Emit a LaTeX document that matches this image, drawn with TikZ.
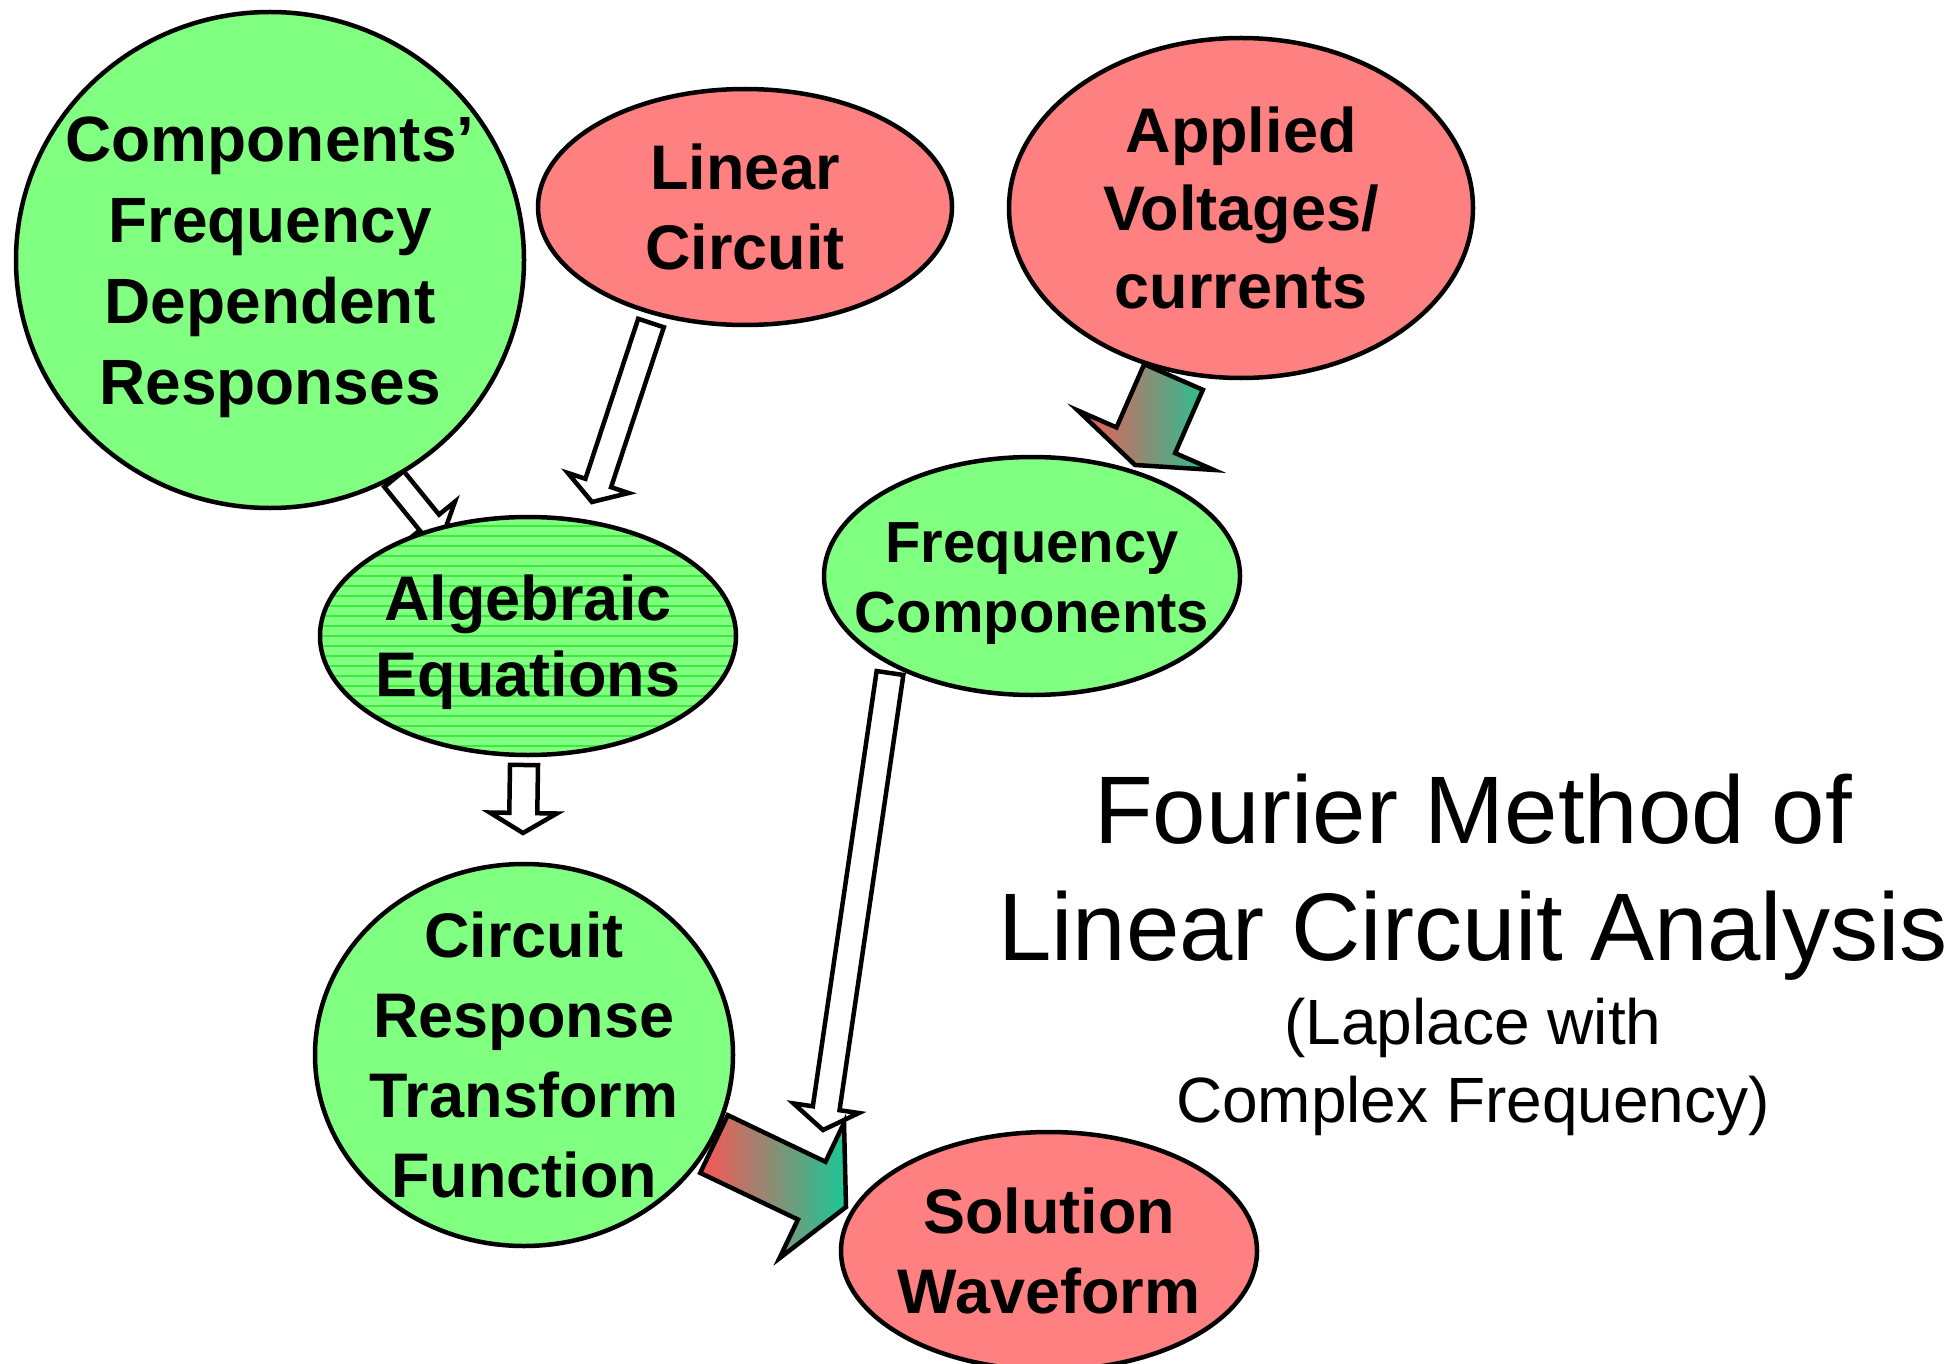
\documentclass[tikz,border=0pt]{standalone}
\usepackage{fontspec}
\setmainfont{Liberation Sans}
\usetikzlibrary{shapes.geometric,calc}
\pgfdeclarelayer{back}
\pgfsetlayers{back,main}

\definecolor{givenred}{RGB}{255,128,128}
\definecolor{foundgreen}{RGB}{128,255,128}
\definecolor{stripegreen}{RGB}{60,235,60}
\definecolor{flowred}{RGB}{250,85,85}
\definecolor{flowteal}{RGB}{25,200,150}

\tikzset{
  bubble/.style={ellipse, draw=black, line width=4.5pt, inner sep=-300pt, align=center},
  given/.style={bubble, fill=givenred},
  found/.style={bubble, fill=foundgreen},
  txt/.style n args={3}{font=\fontsize{#1}{#2}\selectfont\bfseries, text height=#3pt, text depth=0pt},
  stripes/.style={path picture={\foreach \k in {-13,...,13}
      \draw[stripegreen, line width=1.5pt] ($(path picture bounding box.center)+(-240,\k*10)$) -- ++(480,0);}},
  hollow/.style={draw=black, line width=4.5pt, fill=white},
  flow/.style={draw=black, line width=4.5pt, left color=flowred, right color=flowteal}
}

% style, from, to, half shaft, half head, head length
\newcommand{\blockarrow}[6]{%
  \coordinate (ba) at ($(#3)!#6!(#2)$);
  \draw[#1] ($(#2)!#4!90:(#3)$) -- ($(ba)!#4!-90:(#2)$) -- ($(ba)!#5!-90:(#2)$) -- (#3)
    -- ($(ba)!#5!90:(#2)$) -- ($(ba)!#4!90:(#2)$) -- ($(#2)!#4!-90:(#3)$) -- cycle;
}

\begin{document}
\begin{tikzpicture}[x=1pt, y=-1pt]
\useasboundingbox (0,0) rectangle (1956,1364);

\node[found, minimum width=508, minimum height=496, txt={64}{81}{289}] (comp) at (270,260)
  {Components'\\Frequency\\Dependent\\Responses};
\node[given, minimum width=414, minimum height=236, txt={63}{80}{125}] (lin) at (745,207)
  {Linear\\Circuit};
\node[given, minimum width=464, minimum height=340, txt={63}{78}{201}] (app) at (1241,208)
  {Applied\\Voltages/\\currents};
\node[found, stripes, minimum width=416, minimum height=238, txt={63}{76}{121}] (alg) at (528,636)
  {Algebraic\\Equations};
\node[found, minimum width=416, minimum height=238, txt={58}{70}{112}] (freq) at (1032,576)
  {Frequency\\Components};
\node[found, minimum width=418, minimum height=382, txt={63}{80}{285}] (crf) at (524,1055)
  {Circuit\\Response\\Transform\\Function};
\node[given, minimum width=416, minimum height=238, txt={63}{80}{125}] (sol) at (1049,1251)
  {Solution\\Waveform};

\node[font=\fontsize{96}{117}\selectfont, align=center, text height=186pt, text depth=0pt] (title) at (1473,867)
  {Fourier Method of\\Linear Circuit Analysis};
\node[font=\fontsize{64}{78}\selectfont, align=center, text height=124pt, text depth=0pt] (subtitle) at (1473,1060)
  {(Laplace with\\Complex Frequency)};

\coordinate (lin-out) at ($(lin)+(-94,116)$);
\coordinate (alg-in1) at ($(alg)+(64,-134)$);
\coordinate (comp-out) at ($(comp)+(124,219)$);
\coordinate (alg-in2) at ($(alg)+(-86,-98)$);
\coordinate (alg-out) at ($(alg)+(-4,129)$);
\coordinate (crf-in) at ($(crf)+(-1,-222)$);
\coordinate (app-out) at ($(app)+(-67.5,169)$);
\coordinate (freq-in) at ($(freq)+(103,-111)$);
\coordinate (freq-out) at ($(freq)+(-142,97)$);
\coordinate (sol-in1) at ($(sol)+(-226,-121)$);
\coordinate (crf-out) at ($(crf)+(190,89)$);
\coordinate (sol-in2) at ($(sol)+(-203,-44)$);

\begin{pgfonlayer}{back}
\blockarrow{hollow}{lin-out}{alg-in1}{13.5pt}{32pt}{20pt}
\blockarrow{hollow}{comp-out}{alg-in2}{12.5pt}{33pt}{20pt}
\blockarrow{hollow}{alg-out}{crf-in}{14pt}{33.5pt}{20pt}
\blockarrow{hollow}{freq-out}{sol-in1}{13.5pt}{33pt}{22pt}
\blockarrow{flow}{app-out}{freq-in}{32pt}{74pt}{27pt}
\blockarrow{flow}{crf-out}{sol-in2}{32pt}{75pt}{38pt}
\end{pgfonlayer}
\end{tikzpicture}
\end{document}
